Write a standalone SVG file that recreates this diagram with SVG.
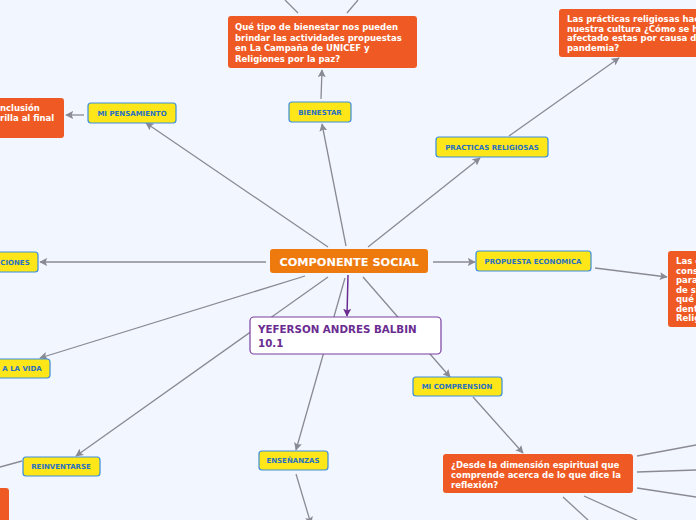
<svg xmlns="http://www.w3.org/2000/svg" width="696" height="520" viewBox="0 0 696 520">
<defs>
<marker id="ag" viewBox="0 0 10 10" refX="9" refY="5" markerWidth="8" markerHeight="8" markerUnits="userSpaceOnUse" orient="auto"><path d="M0,0 L10,5 L0,10 L2,5 Z" fill="#8a8a94"/></marker>
<marker id="ap" viewBox="0 0 10 10" refX="9" refY="5" markerWidth="8" markerHeight="8" markerUnits="userSpaceOnUse" orient="auto"><path d="M0,0 L10,5 L0,10 L2,5 Z" fill="#6a2c91"/></marker>
</defs>
<style>
.c{stroke:#8a8a94;stroke-width:1.3;fill:none}
.ca{stroke:#8a8a94;stroke-width:1.3;fill:none;marker-end:url(#ag)}
.y rect{fill:#ffe619;stroke:#3b8edb;stroke-width:1.2}
.y text{fill:#2770c2;font-family:"DejaVu Sans",Verdana,sans-serif;font-weight:bold;font-size:7px;text-anchor:middle}
.o rect{fill:#ef5a24}
.o text{fill:#ffffff;font-family:"DejaVu Sans",Verdana,sans-serif;font-weight:bold;font-size:8.5px}
</style>
<rect width="696" height="520" fill="#f2f6fe"/>
<g id="connectors">
<line class="c" x1="298" y1="13" x2="285" y2="0"/>
<line class="c" x1="347" y1="13" x2="358" y2="0"/>
<line class="ca" x1="321" y1="99" x2="322" y2="70"/>
<line class="ca" x1="346" y1="246" x2="322" y2="124"/>
<line class="ca" x1="328" y1="247" x2="146" y2="123"/>
<line class="ca" x1="84" y1="115" x2="66" y2="115"/>
<line class="ca" x1="368" y1="247" x2="480" y2="158"/>
<line class="ca" x1="509" y1="136" x2="619" y2="58"/>
<line class="ca" x1="433" y1="262" x2="475" y2="262"/>
<line class="ca" x1="595" y1="268" x2="667" y2="277"/>
<line class="ca" x1="266" y1="262" x2="40" y2="262"/>
<line class="ca" x1="305" y1="276" x2="40" y2="358"/>
<line class="ca" x1="328" y1="277" x2="76" y2="456"/>
<line class="c" x1="22" y1="461" x2="0" y2="467"/>
<line class="ca" x1="345" y1="278" x2="296" y2="450"/>
<line class="ca" x1="296" y1="474" x2="311" y2="524"/>
<line class="ca" x1="363" y1="277" x2="450" y2="377"/>
<line class="ca" x1="473" y1="397" x2="523" y2="453"/>
<line class="c" x1="637" y1="456" x2="696" y2="445"/>
<line class="c" x1="637" y1="472" x2="696" y2="470"/>
<line class="c" x1="637" y1="488" x2="696" y2="497"/>
<line class="c" x1="563" y1="497" x2="588" y2="520"/>
<line class="c" x1="584" y1="496" x2="637" y2="520"/>
<line x1="348" y1="275" x2="347" y2="316" stroke="#6a2c91" stroke-width="1.5" marker-end="url(#ap)"/>
</g>
<g id="central">
<rect x="270" y="249" width="158" height="24" rx="3" fill="#ee7a0e"/>
<text x="349" y="265.5" fill="#ffffff" font-family="DejaVu Sans,Verdana,sans-serif" font-weight="bold" font-size="11.3" text-anchor="middle">COMPONENTE SOCIAL</text>
</g>
<g id="yeferson">
<rect x="250" y="317" width="191" height="37" rx="4" fill="#ffffff" stroke="#7b3fa0" stroke-width="1.2"/>
<text fill="#6a2c91" font-family="DejaVu Sans,Verdana,sans-serif" font-weight="bold" font-size="10.3"><tspan x="258" y="333">YEFERSON ANDRES BALBIN</tspan><tspan x="258" y="347">10.1</tspan></text>
</g>
<g id="bienestar" class="y"><rect x="289" y="102" width="62" height="20" rx="3"/><text x="320" y="114.5">BIENESTAR</text></g>
<g id="mi-pensamiento" class="y"><rect x="88" y="103" width="88" height="20" rx="3"/><text x="132" y="115.5">MI PENSAMIENTO</text></g>
<g id="practicas" class="y"><rect x="436" y="137" width="112" height="20" rx="3"/><text x="492" y="149.5">PRACTICAS RELIGIOSAS</text></g>
<g id="propuesta" class="y"><rect x="476" y="251" width="115" height="20" rx="3"/><text x="533" y="263.5">PROPUESTA ECONOMICA</text></g>
<g id="ciones" class="y"><rect x="-10" y="252" width="48" height="20" rx="3"/><text x="15" y="264.5">CIONES</text></g>
<g id="a-la-vida" class="y"><rect x="-10" y="359" width="60" height="19" rx="3"/><text x="22" y="371">A LA VIDA</text></g>
<g id="reinventarse" class="y"><rect x="23" y="457" width="77" height="19" rx="3"/><text x="61" y="469">REINVENTARSE</text></g>
<g id="ensenanzas" class="y"><rect x="259" y="451" width="69" height="19" rx="3"/><text x="293" y="463">ENSEÑANZAS</text></g>
<g id="mi-comprension" class="y"><rect x="413" y="377" width="89" height="19" rx="3"/><text x="457" y="389">MI COMPRENSION</text></g>
<g id="que-tipo" class="o"><rect x="228" y="16" width="189" height="52" rx="3"/><text><tspan x="235" y="30">Qué tipo de bienestar nos pueden</tspan><tspan x="235" y="40.7">brindar las actividades propuestas</tspan><tspan x="235" y="51.4">en La Campaña de UNICEF y</tspan><tspan x="235" y="62.1">Religiones por la paz?</tspan></text></g>
<g id="inclusion" class="o"><rect x="-10" y="98" width="74" height="40" rx="3"/><text><tspan x="0" y="111">nclusión</tspan><tspan x="0" y="121">rilla al final</tspan></text></g>
<g id="practicas-q" class="o"><rect x="559" y="9" width="150" height="48" rx="3"/><text font-size="8.1"><tspan x="567" y="22">Las prácticas religiosas hacen</tspan><tspan x="567" y="31.7">nuestra cultura ¿Cómo se han</tspan><tspan x="567" y="41.4">afectado estas por causa de la</tspan><tspan x="567" y="51.1">pandemia?</tspan></text></g>
<g id="propuesta-q" class="o"><rect x="668" y="251" width="40" height="76" rx="3"/><text><tspan x="676" y="264">Las c</tspan><tspan x="676" y="273.5">cons</tspan><tspan x="676" y="283">para</tspan><tspan x="676" y="292.5">de su</tspan><tspan x="676" y="302">qué r</tspan><tspan x="676" y="311.5">dent</tspan><tspan x="676" y="321">Relig</tspan></text></g>
<g id="reinventarse-q" class="o"><rect x="-10" y="488" width="19" height="40" rx="3"/></g>
<g id="desde" class="o"><rect x="443" y="454" width="190" height="39" rx="3"/><text font-family="Open Sans,DejaVu Sans,sans-serif" font-size="8.7"><tspan x="451" y="468">¿Desde la dimensión espiritual que</tspan><tspan x="451" y="478">comprende acerca de lo que dice la</tspan><tspan x="451" y="488">reflexión?</tspan></text></g>
</svg>
